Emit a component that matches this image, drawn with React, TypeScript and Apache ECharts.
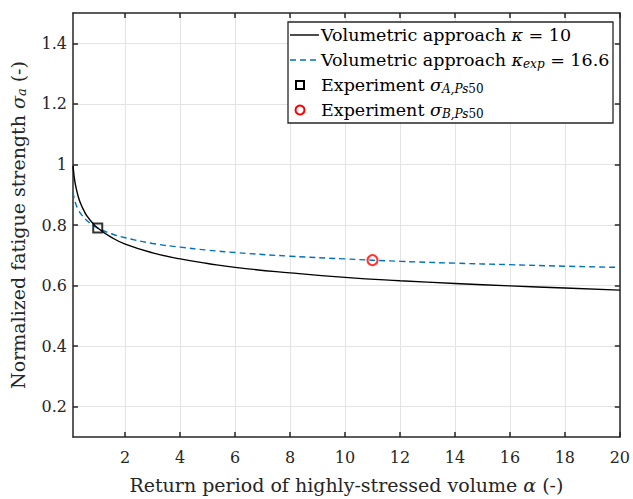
import React, { useEffect, useRef } from "react";
import * as echarts from "echarts";

const alpha = [0.1, 0.12, 0.15, 0.2, 0.3, 0.4, 0.5, 0.6, 0.8, 1, 1.5, 2, 3, 4, 5, 6, 8, 10, 12, 14, 16, 18, 20];
const sigmaKappa10 = [0.995, 0.978, 0.955, 0.928, 0.891, 0.866, 0.847, 0.831, 0.808, 0.79, 0.759, 0.737, 0.708, 0.688, 0.673, 0.66, 0.642, 0.627, 0.616, 0.607, 0.599, 0.592, 0.585];
const sigmaKappaExp = [0.908, 0.898, 0.886, 0.87, 0.849, 0.835, 0.824, 0.815, 0.801, 0.79, 0.771, 0.758, 0.739, 0.727, 0.717, 0.709, 0.697, 0.688, 0.68, 0.674, 0.669, 0.664, 0.66];
const expA = [1, 0.79];
const expB = [11, 0.684];
const xTicks = [2, 4, 6, 8, 10, 12, 14, 16, 18, 20];
const yTicks = [0.2, 0.4, 0.6, 0.8, 1, 1.2, 1.4];

const FONT = "DejaVu Serif";
const AX = "#262626";
const BLUE = "#0072BD";

export default function App() {
  const ref = useRef<HTMLDivElement>(null);
  useEffect(() => {
    const chart = echarts.init(ref.current!, null, { renderer: "svg" });
    const mk = (fs: number) => {
      const sub = Math.round(fs * 0.7);
      return {
        base: { fontFamily: FONT, fontSize: fs, color: AX },
        rich: {
          i: { fontFamily: FONT, fontSize: fs, fontStyle: "italic", color: AX },
          s: { fontFamily: FONT, fontSize: sub, fontStyle: "italic", color: AX, verticalAlign: "bottom", padding: [Math.round(fs * 0.4), 0, 0, 0] },
          su: { fontFamily: FONT, fontSize: sub, color: AX, verticalAlign: "bottom", padding: [Math.round(fs * 0.4), 0, 0, 0] },
        },
      };
    };
    const title = mk(19);
    const leg = mk(17.5);
    const tick = { fontFamily: FONT, fontSize: 16, color: AX };
    const xAxisCommon = {
      type: "value",
      min: 0.1,
      max: 20,
      axisLine: { show: true, lineStyle: { color: AX, width: 1.5 } },
      axisTick: { show: true, inside: true, length: 5, customValues: xTicks, lineStyle: { color: AX, width: 1.5 } },
    };
    const yAxisCommon = {
      type: "value",
      min: 0.1,
      max: 1.5,
      axisLine: { show: true, lineStyle: { color: AX, width: 1.5 } },
      axisTick: { show: true, inside: true, length: 5, customValues: yTicks, lineStyle: { color: AX, width: 1.5 } },
    };
    const legendX = 288, legendY = 22, rowH = 25;
    const rowY = (k: number) => legendY + 13 + k * rowH;
    const textEl = (text: string, k: number) => ({
      type: "text",
      x: 321,
      y: rowY(k),
      z: 110,
      style: { text, ...leg.base, verticalAlign: "middle", rich: leg.rich },
    });
    chart.setOption({
      animation: false,
      backgroundColor: "#fff",
      textStyle: { fontFamily: FONT },
      grid: { left: 73, right: 10, top: 13, bottom: 53, containLabel: false },
      xAxis: [
        {
          ...xAxisCommon,
          position: "bottom",
          name: "Return period of highly-stressed volume {i|α} (-)",
          nameLocation: "middle",
          nameGap: 38,
          nameTextStyle: { ...title.base, rich: title.rich },
          axisLabel: { show: true, customValues: xTicks, margin: 12, ...tick, formatter: (v: number) => String(v) },
          splitLine: { show: true, lineStyle: { color: "#e3e3e3", width: 1 } },
        },
        {
          ...xAxisCommon,
          position: "top",
          axisLabel: { show: false },
          splitLine: { show: false },
        },
      ],
      yAxis: [
        {
          ...yAxisCommon,
          position: "left",
          name: "Normalized fatigue strength {i|σ}{s|a} (-)",
          nameLocation: "middle",
          nameGap: 45,
          nameTextStyle: { ...title.base, rich: title.rich },
          axisLabel: { show: true, customValues: yTicks, margin: 6, ...tick, formatter: (v: number) => String(Math.round(v * 10) / 10) },
          splitLine: { show: true, lineStyle: { color: "#e3e3e3", width: 1 } },
        },
        {
          ...yAxisCommon,
          position: "right",
          axisLabel: { show: false },
          splitLine: { show: false },
        },
      ],
      series: [
        {
          type: "line",
          name: "Volumetric approach κ = 10",
          data: alpha.map((a, i) => [a, sigmaKappa10[i]]),
          smooth: true,
          showSymbol: false,
          lineStyle: { color: "#000", width: 1.4 },
          z: 3,
        },
        {
          type: "line",
          name: "Volumetric approach κexp = 16.6",
          data: alpha.map((a, i) => [a, sigmaKappaExp[i]]),
          smooth: true,
          showSymbol: false,
          lineStyle: { color: BLUE, width: 1.4, type: [6, 4] },
          z: 2,
        },
        {
          type: "scatter",
          name: "Experiment σA,Ps50",
          data: [expA],
          symbol: "rect",
          symbolSize: 9,
          itemStyle: { color: "transparent", borderColor: "#000", borderWidth: 2 },
          z: 4,
        },
        {
          type: "scatter",
          name: "Experiment σB,Ps50",
          data: [expB],
          symbol: "circle",
          symbolSize: 10,
          itemStyle: { color: "transparent", borderColor: "#ff0000", borderWidth: 2 },
          z: 4,
        },
      ],
      graphic: [
        {
          type: "rect",
          z: 100,
          shape: { x: legendX, y: legendY, width: 325, height: 101 },
          style: { fill: "#fff", stroke: AX, lineWidth: 1.3 },
        },
        { type: "line", z: 110, shape: { x1: 290, y1: rowY(0), x2: 319, y2: rowY(0) }, style: { stroke: "#000", lineWidth: 1.4 } },
        { type: "line", z: 110, shape: { x1: 290, y1: rowY(1), x2: 319, y2: rowY(1) }, style: { stroke: BLUE, lineWidth: 1.4, lineDash: [6, 4] } },
        { type: "rect", z: 110, shape: { x: 296, y: rowY(2) - 4, width: 8, height: 8 }, style: { fill: "transparent", stroke: "#000", lineWidth: 2 } },
        { type: "circle", z: 110, shape: { cx: 300, cy: rowY(3), r: 4.5 }, style: { fill: "transparent", stroke: "#ff0000", lineWidth: 2 } },
        textEl("Volumetric approach {i|κ} = 10", 0),
        textEl("Volumetric approach {i|κ}{s|exp} = 16.6", 1),
        textEl("Experiment {i|σ}{s|A,Ps}{su|50}", 2),
        textEl("Experiment {i|σ}{s|B,Ps}{su|50}", 3),
      ],
    });
    return () => chart.dispose();
  }, []);
  return <div ref={ref} style={{ width: 633, height: 499, position: "absolute", left: 0, top: 0 }} />;
}
